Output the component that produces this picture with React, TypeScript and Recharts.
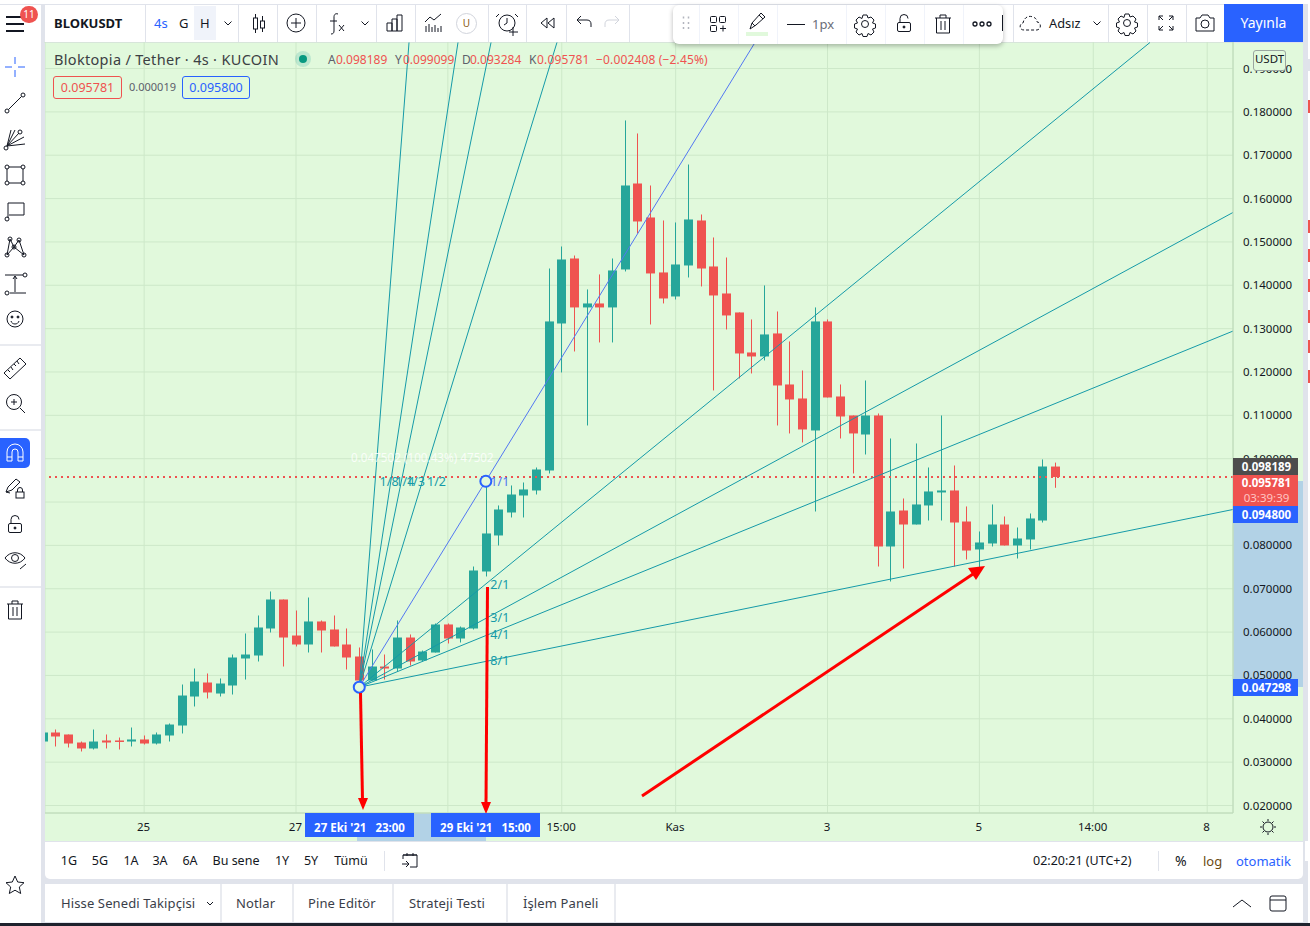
import React from "react";
import { ComposedChart, Bar, XAxis, YAxis, CartesianGrid, ReferenceLine, ReferenceDot } from "recharts";

const opens = [0.03476,0.03684,0.03638,0.03453,0.03315,0.035,0.035,0.03476,0.03523,0.0343,0.03615,0.03845,0.04514,0.04837,0.04583,0.04768,0.05391,0.0546,0.06083,0.06752,0.05921,0.05714,0.06245,0.0606,0.05714,0.05437,0.04883,0.05206,0.0516,0.05875,0.05345,0.05529,0.06176,0.05852,0.06083,0.07398,0.08229,0.08759,0.09151,0.09267,0.09728,0.13119,0.14618,0.13489,0.13581,0.13489,0.14365,0.16348,0.15564,0.14296,0.13742,0.14457,0.15495,0.14434,0.13811,0.13373,0.1245,0.12358,0.12889,0.11712,0.11389,0.10651,0.13166,0.11435,0.10997,0.10558,0.10997,0.07975,0.08805,0.08482,0.08921,0.09221,0.09267,0.08551,0.07906,0.08044,0.08482,0.07998,0.08136,0.08574,0.098189];
const closes = [0.03684,0.03592,0.0343,0.03315,0.03476,0.03453,0.03476,0.03523,0.0343,0.03638,0.03868,0.04537,0.0486,0.04607,0.04814,0.05414,0.05483,0.06106,0.06752,0.05875,0.05714,0.06245,0.06037,0.05668,0.05414,0.04883,0.05206,0.0516,0.05875,0.05322,0.05552,0.06176,0.05852,0.06106,0.07421,0.08275,0.08828,0.09174,0.0929,0.09751,0.13166,0.14595,0.13489,0.13581,0.13489,0.14342,0.16302,0.15472,0.14273,0.13696,0.1448,0.15518,0.14387,0.13765,0.13304,0.12427,0.12358,0.12866,0.11689,0.11366,0.10674,0.13166,0.11412,0.10974,0.10582,0.10997,0.07975,0.08782,0.08482,0.08944,0.09244,0.09267,0.08528,0.07882,0.08067,0.08482,0.07998,0.08159,0.08621,0.0982,0.095781];
const highs = [0.03684,0.03753,0.03638,0.03476,0.03753,0.03638,0.03568,0.03799,0.03615,0.03684,0.03892,0.04791,0.0516,0.05045,0.0493,0.05483,0.05968,0.06383,0.06937,0.06752,0.06498,0.06798,0.06268,0.06383,0.06083,0.05645,0.05599,0.05483,0.06268,0.05945,0.05575,0.06199,0.06199,0.06129,0.07513,0.09497,0.08921,0.09382,0.09451,0.09797,0.14387,0.14895,0.14687,0.13904,0.1425,0.14618,0.17802,0.17502,0.16302,0.15495,0.15449,0.16786,0.15633,0.15103,0.14641,0.13373,0.13212,0.13996,0.13396,0.12704,0.12035,0.13489,0.13212,0.11712,0.10997,0.11804,0.11043,0.10466,0.09082,0.10351,0.09797,0.10997,0.09843,0.08898,0.08321,0.08944,0.08667,0.08413,0.08736,0.09982,0.099099];
const lows = [0.03476,0.03361,0.03338,0.03246,0.03292,0.03315,0.03292,0.03361,0.03407,0.03407,0.03476,0.03661,0.04284,0.04468,0.04514,0.0456,0.04906,0.05322,0.05991,0.05206,0.05668,0.05529,0.05529,0.05668,0.05137,0.04883,0.04883,0.04906,0.05091,0.05229,0.05322,0.05529,0.05737,0.0576,0.0606,0.07283,0.07998,0.08644,0.08644,0.09174,0.09659,0.11989,0.12473,0.10766,0.12681,0.12681,0.14319,0.15195,0.13096,0.13581,0.13673,0.1418,0.13973,0.11574,0.12981,0.1185,0.11966,0.12266,0.10766,0.10582,0.10374,0.08782,0.11412,0.10466,0.09659,0.10097,0.07513,0.07167,0.07467,0.08482,0.08574,0.08574,0.07513,0.07675,0.07467,0.07975,0.07998,0.07698,0.07906,0.08528,0.093284];

const priceTicks = [0.02,0.03,0.04,0.05,0.06,0.07,0.08,0.09,0.1,0.11,0.12,0.13,0.14,0.15,0.16,0.17,0.18,0.19];
const timeTicks = [8,20,32,41,50,62,74,83,92];
const timeLabels = ["25","27","","15:00","Kas","3","5","14:00","8"];

const fanOrigin = { i: 25, price: 0.047298 };
const fanHandle = { i: 35, price: 0.0948 };
const fanNames = ["1/8","1/4","1/3","1/2","1/1","2/1","3/1","4/1","8/1"];
const fanEndIndex = [28.93,32.8,35.41,40.62,56.27,87.48,94.04,94.04,94.04];
const fanEndPrice = [0.19601,0.19601,0.19601,0.19601,0.19601,0.19601,0.1568,0.12944,0.08828];
const fanLabelIndex = [26.25,27.5,28.33,30,35,35,35,35,35];
const fanLabelPrice = [0.0948,0.0948,0.0948,0.0948,0.0948,0.07105,0.06328,0.05939,0.05354];

const lastClose = 0.095781;
const xDomain = [0.166,94.04];
const yDomain = [0.01827,0.19612];

const rows = opens.map((o,i)=>({ i, open:o, close:closes[i], high:highs[i], low:lows[i], range:[lows[i],highs[i]] }));

const UP = "#26a69a", DOWN = "#ef5350", TEAL = "#159aa8", FANBLUE = "#5277f2", INK = "#131722", BLUE = "#2962ff";
const FONT = "'Noto Sans', sans-serif";

const Candle = (p:any) => {
  const { x, y, width, height, payload } = p;
  if (!payload) return null;
  const top = Math.min(y, y+height), h = Math.abs(height);
  const k = h/(payload.high-payload.low);
  const py = (v:number)=> top+(payload.high-v)*k;
  const cx = Math.round(x+width/2-0.5)+0.5;
  const up = payload.close>=payload.open;
  const c = up?UP:DOWN;
  const bt = py(Math.max(payload.open,payload.close));
  const bb = py(Math.min(payload.open,payload.close));
  return <g>
    <line x1={cx} x2={cx} y1={top} y2={top+h} stroke={c} strokeWidth={1}/>
    <rect x={cx-4.5} y={bt} width={9} height={Math.max(bb-bt,1.5)} fill={c}/>
  </g>;
};

const XTick = (p:any) => {
  const label = timeLabels[timeTicks.indexOf(p.payload.value)];
  return <text x={p.x-0.6} y={831} textAnchor="middle" fontSize={11.5} fontFamily={FONT} fill={INK}>{label}</text>;
};
const YTick = (p:any) => <text x={1243} y={p.y+4} fontSize={11.5} fontFamily={FONT} fill={INK}>{p.payload.value.toFixed(6)}</text>;

const T = ({x,y,children,size=13,color=INK,weight=400,anchor,spacing=0}:any) => (
  <div style={{position:"absolute",left:anchor==="middle"?x-100:x,top:y-12,height:24,lineHeight:"24px",width:anchor==="middle"?200:undefined,textAlign:anchor==="middle"?"center":"left",fontSize:size,color,fontWeight:weight,whiteSpace:"pre",fontFamily:FONT,letterSpacing:spacing}}>{children}</div>
);
const Box = ({x,y,w,h,bg,style}:any) => <div style={{position:"absolute",left:x,top:y,width:w,height:h,background:bg,...style}}/>;
const Tag = ({y,h=17,bg,children}:any) => <div style={{position:"absolute",left:1233,top:y,width:65,height:h,paddingLeft:0,background:bg,color:"#fff",fontWeight:700,fontSize:11.5,lineHeight:h===17?"17px":"15px",textAlign:"center",textIndent:2}}>{children}</div>;

const Ic = ({x,y,children,s=INK,w=1}:any) => (
  <svg style={{position:"absolute",left:x-14,top:y-14}} width={28} height={28} viewBox="-14 -14 28 28" fill="none" stroke={s} strokeWidth={w}>{children}</svg>
);
const Gear = () => <g><circle r={3.5}/><path d="M-2-9h4l1 3 3-1 3 3-1.500 3 3 1v4l-3 1 1.500 3-3 3-3-1.500-1 3h-4l-1-3-3 1.500-3-3 1.500-3-3-1v-4l3-1-1.500-3 3-3 3 1.500z"/></g>;
const Lock = () => <g><rect x={-6.500} y={-1.500} width={13} height={9} rx={1.500}/><path d="M-4-1.500v-4a4 4 0 0 1 8 0"/><circle cy={3} r={1} fill={INK}/></g>;
const Trash = () => <g><path d="M-8-6h16M-3-6v-3h6v3M-6.500-6v15h13v-15M-2-3v9M2-3v9"/></g>;

const toolbarSeps = [145,238,277,316,376,415,488,526,566,629,1013,1108,1147,1186];
const floatSeps = [699,738,777,846,885,924,963];
const leftSeps = [344,429,586];
const rangeButtons:[string,number][] = [["1G",69],["5G",100],["1A",131],["3A",160],["6A",190],["Bu sene",236],["1Y",282],["5Y",311],["Tümü",351]];
const tabs:[string,number][] = [["Hisse Senedi Takipçisi",61],["Notlar",236],["Pine Editör",308],["Strateji Testi",409],["İşlem Paneli",523]];
const tabSeps = [220,292,392,506,614];
const edgeChips = [100,220,249,279,310,340,370];

export default function App(){
  return (
    <div style={{position:"absolute",left:0,top:0,width:1310,height:926,overflow:"hidden",background:"#e0e3eb",fontFamily:FONT}}>
      {/* chart ground */}
      <Box x={45} y={43} w={1258} h={798} bg="#e1f9dc"/>
      <Box x={1233} y={481} w={70} h={206} bg="#b2d2e6"/>
      <Box x={357} y={813} w={129} h={28} bg="#b2d2e6"/>

      <div style={{position:"absolute",left:0,top:0}}>
        <ComposedChart width={1303} height={841} data={rows} margin={{top:42,right:0,bottom:0,left:45}}>
          <CartesianGrid stroke="#cde8c9" strokeWidth={1}/>
          <XAxis dataKey="i" type="number" domain={xDomain} allowDataOverflow ticks={timeTicks} interval={0} height={28} tick={<XTick/>} tickLine={false} axisLine={{stroke:"#bcd8b8"}}/>
          <YAxis orientation="right" type="number" domain={yDomain} allowDataOverflow ticks={priceTicks} interval={0} width={70} tick={<YTick/>} tickLine={false} axisLine={{stroke:"#bcd8b8"}}/>
          <ReferenceLine y={lastClose} stroke={DOWN} strokeWidth={2} strokeDasharray="2 4"/>
          <Bar dataKey="range" barSize={9} shape={<Candle/>} isAnimationActive={false}/>
          {fanNames.map((n,k)=>(
            <ReferenceLine key={n} ifOverflow="visible" stroke={n==="1/1"?FANBLUE:TEAL} strokeWidth={1}
              segment={[{x:fanOrigin.i,y:fanOrigin.price},{x:fanEndIndex[k],y:fanEndPrice[k]}]}/>
          ))}
          {fanNames.map((n,k)=>(
            <ReferenceDot key={"l"+n} x={fanLabelIndex[k]} y={fanLabelPrice[k]} r={0} ifOverflow="visible"
              shape={(p:any)=><text x={p.cx+4.500} y={p.cy+4.500} fontSize={12.500} fontFamily={FONT} fill={n==="1/1"?FANBLUE:TEAL}>{n}</text>}/>
          ))}
          <ReferenceDot x={fanOrigin.i} y={fanOrigin.price} r={5.500} fill="#e1f9dc" stroke={BLUE} strokeWidth={2} ifOverflow="visible"/>
          <ReferenceDot x={fanHandle.i} y={fanHandle.price} r={5.500} fill="#e1f9dc" stroke={BLUE} strokeWidth={2} ifOverflow="visible"/>
        </ComposedChart>
      </div>

      <T x={351} y={457} size={11.700} color="rgba(255,255,255,.85)">0.047502 (100.43%) 47502</T>

      {/* hand-drawn arrows of the annotator */}
      <svg style={{position:"absolute",left:0,top:0}} width={1310} height={926}>
        <g stroke="#ff0000" strokeWidth={3} fill="#ff0000">
          <line x1={360.500} y1={693} x2={362.500} y2={800}/>
          <polygon points="363,810 358,798 368,798" stroke="none"/>
          <line x1={487.500} y1={587} x2={486} y2={804}/>
          <polygon points="486,814 481,802 491,802" stroke="none"/>
          <line x1={642} y1={796} x2={976} y2={572}/>
          <polygon points="985,566 968,568 976,580" stroke="none"/>
        </g>
      </svg>

      {/* legend */}
      <T x={54} y={59} size={14.500} color="#3c4043" spacing={0.32}>Bloktopia / Tether · 4s · KUCOIN</T>
      <Box x={295} y={51} w={16} h={16} bg="rgba(38,166,154,.2)" style={{borderRadius:8}}/>
      <Box x={299} y={55} w={8} h={8} bg="#089981" style={{borderRadius:4}}/>
      <T x={328} y={60} size={12} color="#5d606b">A</T><T x={336} y={60} size={12} color={DOWN}>0.098189</T>
      <T x={395} y={60} size={12} color="#5d606b">Y</T><T x={403} y={60} size={12} color={DOWN}>0.099099</T>
      <T x={462} y={60} size={12} color="#5d606b">D</T><T x={470} y={60} size={12} color={DOWN}>0.093284</T>
      <T x={529} y={60} size={12} color="#5d606b">K</T><T x={537} y={60} size={12} color={DOWN} spacing={0.15}>0.095781  −0.002408 (−2.45%)</T>
      <div style={{position:"absolute",left:53,top:76,width:67,height:21,border:`1px solid ${DOWN}`,borderRadius:3,color:DOWN,fontSize:12.500,lineHeight:"21px",textAlign:"center"}}>0.095781</div>
      <T x={129} y={87} size={11} color="#5d606b">0.000019</T>
      <div style={{position:"absolute",left:182,top:76,width:66,height:21,border:`1px solid ${BLUE}`,borderRadius:3,color:BLUE,fontSize:12.500,lineHeight:"21px",textAlign:"center"}}>0.095800</div>

      {/* axis labels */}
      <div style={{position:"absolute",left:1253,top:50,width:31,height:19,border:"1px solid #9aa6a0",borderRadius:3,background:"#e1f9dc",fontSize:11.500,lineHeight:"16px",textAlign:"center",color:INK}}>USDT</div>
      <Tag y={458} bg="#4d4d4d">0.098189</Tag>
      <Tag y={475} h={31} bg={DOWN}>0.095781<div style={{color:"#ffc4c2",fontWeight:400}}>03:39:39</div></Tag>
      <Tag y={506} bg={BLUE}>0.094800</Tag>
      <Tag y={679} bg={BLUE}>0.047298</Tag>
      <div style={{position:"absolute",left:305,top:813,width:109,height:24,background:BLUE,color:"#fff",fontWeight:700,fontSize:11.500,lineHeight:"29px",textAlign:"center",whiteSpace:"pre"}}>27 Eki '21   23:00</div>
      <div style={{position:"absolute",left:431,top:813,width:109,height:24,background:BLUE,color:"#fff",fontWeight:700,fontSize:11.500,lineHeight:"29px",textAlign:"center",whiteSpace:"pre"}}>29 Eki '21   15:00</div>
      <Ic x={1268} y={827}><circle r={5}/><path d="M0-8v2M0 6v2M-8 0h2M6 0h2M-5.500-5.500l1.500 1.500M4 4l1.500 1.500M-5.500 5.500l1.500-1.500M4-4l1.500-1.500"/></Ic>

      {/* top toolbar */}
      <Box x={0} y={0} w={1310} h={4} bg="#fff"/>
      <Box x={0} y={4} w={1303} h={1} bg="#e0e3eb"/>
      <Box x={0} y={5} w={41} h={38} bg="#fff"/>
      <Box x={45} y={5} w={1258} h={37} bg="#fff"/>
      {toolbarSeps.map(x=><Box key={x} x={x} y={5} w={1} h={37} bg="#e0e3eb"/>)}
      <Ic x={15} y={24} w={2}><path d="M-9-7h18M-9 0h18M-9 7h18"/></Ic>
      <div style={{position:"absolute",left:20,top:6,width:18,height:17,borderRadius:9,background:DOWN,color:"#fff",fontSize:10,lineHeight:"17px",textAlign:"center"}}>11</div>
      <T x={54} y={23} size={13} weight={700}>BLOKUSDT</T>
      <T x={154} y={23} size={13} color={BLUE}>4s</T>
      <T x={179} y={23} size={13}>G</T>
      <Box x={194} y={6} w={22} h={34} bg="#f0f3fa"/>
      <T x={200} y={23} size={13}>H</T>
      <Ic x={228} y={23}><path d="M-3.500-1.500L0 2l3.500-3.500"/></Ic>
      <Ic x={259} y={23}><path d="M-3.500-9v4M-3.500 6v4M3.500-7v5M3.500 5v4"/><rect x={-5.500} y={-5} width={4} height={11}/><rect x={1.500} y={-2} width={4} height={7}/></Ic>
      <Ic x={296} y={23}><circle r={9}/><path d="M-5 0h10M0-5v10"/></Ic>
      <Ic x={336} y={23}><path d="M2-9c-3-1-4 1-4 3v14c0 2-1 3-3 3M-6-2h7M3 2l5 6M8 2l-5 6"/></Ic>
      <Ic x={365} y={23}><path d="M-3.500-1.500L0 2l3.500-3.500"/></Ic>
      <Ic x={395} y={23}><path d="M-8 8V0h5v8M-3 8v-12h5v12M2 8V-8h5v16M-8 8h15"/></Ic>
      <Ic x={434} y={23}><path d="M-9-1l5-5 4 3 7-6M-8 9V3M-5 9V1M-2 9V4M1 9V2M4 9V5M7 9V3"/></Ic>
      <div style={{position:"absolute",left:456,top:13,width:19,height:19,border:"1px solid #d1d4dc",borderRadius:11,fontSize:10,lineHeight:"19px",textAlign:"center",color:"#8a5a12"}}>U</div>
      <Ic x={507} y={23}><circle r={8}/><path d="M-8-9l-3 3M8-9l3 3M0-5v5l-3 2M6 4v9M2 9h9"/></Ic>
      <Ic x={547} y={23}><path d="M0-5l-6 5 6 5zM7-5l-6 5 6 5z"/></Ic>
      <Ic x={584} y={23}><path d="M-6-3h9c3 0 4 2 4 4v3M-3-7l-4 4 4 4"/></Ic>
      <Ic x={612} y={23} s="#d1d4dc"><path d="M6-3h-9c-3 0-4 2-4 4v3M3-7l4 4-4 4"/></Ic>

      {/* floating drawing toolbar */}
      <Box x={673} y={5} w={330} h={39} bg="#fff" style={{borderRadius:6,boxShadow:"0 2px 5px rgba(0,0,0,.28)"}}/>
      {floatSeps.map(x=><Box key={x} x={x} y={5} w={1} h={39} bg="#f0f3fa"/>)}
      <Ic x={686} y={24} s="#b2b5be" w={1.500}><path d="M-2.500-7.500v2M2.500-7.500v2M-2.500-2v2M2.500-2v2M-2.500 3v2M2.500 3v2"/></Ic>
      <Ic x={718} y={24}><rect x={-7.500} y={-7.500} width={6} height={6} rx={1}/><rect x={1.500} y={-7.500} width={6} height={6} rx={1}/><rect x={-7.500} y={1.500} width={6} height={6} rx={1}/><path d="M2 4.500h6M5 1.500v6"/></Ic>
      <Ic x={757} y={21}><path d="M-7 8l2-6L4-8l4 4-9 8zM-5 2l3 3M2-6l4 4" /></Ic>
      <Box x={746} y={32} w={22} h={4} bg="#e1f9dc"/>
      <Box x={787} y={24} w={18} h={1} bg={INK}/>
      <T x={812} y={24} size={13} color="#6a6d78">1px</T>
      <Ic x={865} y={24}><Gear/></Ic>
      <Ic x={904} y={24}><Lock/></Ic>
      <Ic x={943} y={24}><Trash/></Ic>
      <Ic x={982} y={24} w={1.300}><circle cx={-7} r={2}/><circle r={2}/><circle cx={7} r={2}/></Ic>
      <Box x={1002} y={15} w={1} h={16} bg={INK}/>
      <Ic x={1032} y={23} w={1}><path strokeDasharray="3 2" d="M-8 7c-5 0-5-6-1-7 1-5 5-8 10-6 3 1 4 3 4 5 4 0 5 7 0 8z"/></Ic>
      <T x={1049} y={23} size={12.800}>Adsız</T>
      <Ic x={1097} y={23}><path d="M-3.500-1.500L0 2l3.500-3.500"/></Ic>
      <Ic x={1127} y={23}><Gear/></Ic>
      <Ic x={1166} y={23}><path d="M-7-3v-4h4M3-7h4v4M7 3v4H3M-3 7h-4V3M-7-7l4 4M7-7l-4 4M7 7L3 3M-7 7l4-4"/></Ic>
      <Ic x={1205} y={23}><path d="M-9-5h4l2-3h6l2 3h4v13H-9z"/><circle cy={1} r={4}/></Ic>
      <div style={{position:"absolute",left:1224,top:4,width:79,height:38,background:BLUE,color:"#fff",fontSize:14,lineHeight:"38px",textAlign:"center"}}>Yayınla</div>

      {/* left sidebar */}
      <Box x={0} y={43} w={41} h={883} bg="#fff"/>
      <Box x={41} y={43} w={4} h={883} bg="#e0e3eb"/>
      {leftSeps.map(y=><Box key={y} x={0} y={y} w={41} h={2} bg="#e9ebf0"/>)}
      <Ic x={15} y={67} s={BLUE}><path d="M0-10v7M0 3v7M-10 0h7M3 0h7"/></Ic>
      <Ic x={15} y={103}><circle cx={-8} cy={8} r={2}/><circle cx={8} cy={-8} r={2}/><path d="M-6.500 6.500L6.500-6.500"/></Ic>
      <Ic x={15} y={139}><circle cx={-9} cy={9} r={2}/><circle cx={5} cy={-7} r={2}/><path d="M-8 7L-4-9M-8 7L0-9M-8 7L4-6M-8 7L9-2M-8 7L10 5"/></Ic>
      <Ic x={15} y={175}><rect x={-8} y={-8} width={16} height={16}/><circle cx={-8} cy={-8} r={2} fill="#fff"/><circle cx={8} cy={-8} r={2} fill="#fff"/><circle cx={-8} cy={8} r={2} fill="#fff"/><circle cx={8} cy={8} r={2} fill="#fff"/></Ic>
      <Ic x={15} y={211}><path d="M-7 7V-8H9V4H-6"/><circle cx={-8} cy={8} r={2}/></Ic>
      <Ic x={15} y={247}><path d="M-8 8L-5-8-1 0 4-7 9 8M-8 8l7-8 10 8"/><circle cx={-5} cy={-8} r={2}/><circle cx={4} cy={-7} r={2}/><circle cx={-8} cy={8} r={2}/><circle cx={9} cy={8} r={2}/><circle cx={-1} r={2}/></Ic>
      <Ic x={15} y={283}><path d="M-10-8H8M-5 10H11M0 9V-7M-2-4l2-3 2 3"/><circle cx={10} cy={-8} r={2}/><circle cx={-8} cy={10} r={2}/></Ic>
      <Ic x={15} y={319}><circle r={8}/><circle cx={-3} cy={-2} r={1} fill={INK}/><circle cx={3} cy={-2} r={1} fill={INK}/><path d="M-4 2c1 4 7 4 8 0" /></Ic>
      <Ic x={15} y={368}><path d="M-11 5L5-10l6 6L-5 11zM-7 2l2 2M-4-1l2 3M-1-4l2 2M2-7l2 3"/></Ic>
      <Ic x={15} y={403}><circle cx={-1} cy={-1} r={7.500}/><path d="M-4-1h6M-1-4v6M5 5l5 5"/></Ic>
      <div style={{position:"absolute",left:0,top:438,width:30,height:30,borderRadius:"0 5px 5px 0",background:BLUE}}/>
      <Ic x={15} y={453} s="#fff"><path d="M-8 8V-1a8 8 0 0 1 16 0V8H3V-1a3 3 0 0 0-6 0V8zM-8 4h5M3 4h5"/></Ic>
      <Ic x={14} y={488}><path d="M-8 4L-6-1 2-9l4 3-8 8zM-8 4l4 1"/><g transform="translate(6,5)"><rect x={-4} y={-1} width={8} height={6}/><path d="M-2.500-1v-2a2.500 2.500 0 0 1 5 0v2"/></g></Ic>
      <Ic x={15} y={525}><Lock/></Ic>
      <Ic x={15} y={560}><path d="M-10-2c5-7 15-7 20 0-5 7-15 7-20 0z"/><circle cy={-2} r={3.500}/><path d="M5 9l6-5"/></Ic>
      <Ic x={15} y={610}><Trash/></Ic>
      <Ic x={15} y={885}><path d="M0-9l2.700 6 6.300.7-4.700 4.300 1.400 6.500L0 5.200-5.700 8.500l1.400-6.500L-9-2.300l6.300-.7z"/></Ic>

      {/* range row */}
      <Box x={45} y={842} w={1258} h={37} bg="#fff" style={{borderRadius:"0 0 5px 5px"}}/>
      {rangeButtons.map(([t,x])=><T key={t} x={x} y={861} size={12.500} anchor="middle">{t}</T>)}
      <Box x={384} y={851} w={1} h={20} bg="#e0e3eb"/>
      <Ic x={410} y={861}><path d="M-7-2v-4h14v12H0M-7-6h14M-3-8v3M3-8v3M-8 3h6M-4 0l3 3-3 3"/></Ic>
      <T x={1033} y={861} size={12.500}>02:20:21 (UTC+2)</T>
      <Box x={1158} y={851} w={1} h={20} bg="#e0e3eb"/>
      <T x={1175} y={861} size={14}>%</T>
      <T x={1203} y={861} size={13} color="#6b4a12">log</T>
      <T x={1236} y={861} size={13} color={BLUE}>otomatik</T>

      {/* tabs */}
      <Box x={45} y={884} w={1258} h={38} bg="#fff"/>
      {tabs.map(([t,x])=><T key={t} x={x} y={903} size={13} color="#3a3e49" spacing={0.12}>{t}</T>)}
      {tabSeps.map(x=><Box key={x} x={x} y={884} w={2} h={38} bg="#e9ebf0"/>)}
      <Ic x={210} y={903}><path d="M-3-1L0 2l3-3"/></Ic>
      <Ic x={1242} y={903}><path d="M-9 4L0-3l9 7"/></Ic>
      <Ic x={1278} y={903}><rect x={-8} y={-7} width={16} height={15} rx={2}/><path d="M-8-3h16"/></Ic>
      <Box x={0} y={923} w={1310} h={3} bg="#1e222d"/>

      {/* right edge panel */}
      <Box x={1308} y={0} w={2} h={923} bg="#fff"/>
      <Box x={1303} y={59} w={7} h={12} bg="#e0e3eb"/>
      {edgeChips.map(y=><Box key={y} x={1308} y={y} w={2} h={13} bg={DOWN}/>)}
      <Box x={1305} y={841} w={5} h={20} bg="#fff"/>
    </div>
  );
}
